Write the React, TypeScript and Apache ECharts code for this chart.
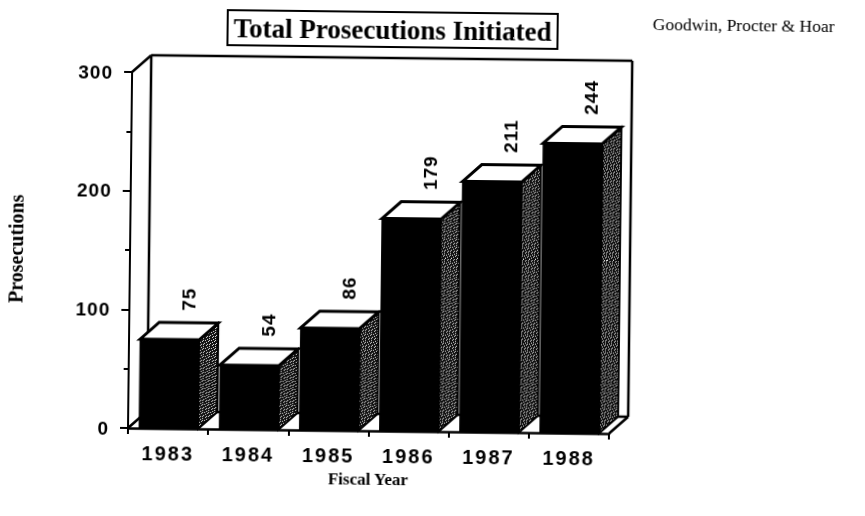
import React, { useEffect, useRef } from "react";
import * as echarts from "echarts";

const categories = ["1983", "1984", "1985", "1986", "1987", "1988"];
const prosecutions = [75, 54, 86, 179, 211, 244];
const yTicks = [0, 100, 200, 300];
const chartTitle = "Total Prosecutions Initiated";
const sourceNote = "Goodwin, Procter & Hoar";
const yName = "Prosecutions";
const xName = "Fiscal Year";

const DEPTH_X = 19;
const DEPTH_Y = 17;
const STIPPLE = ["k.kkkk", "kkkk.k", "kk.kkk", ".kkk.k", "kkk.kk", "k.kkkk", "kkkkk.", "kk.k.k"];

function stippleCanvas() {
  const c = document.createElement("canvas");
  c.width = STIPPLE[0].length;
  c.height = STIPPLE.length;
  const ctx = c.getContext("2d")!;
  STIPPLE.forEach((row, y) => {
    [...row].forEach((ch, x) => {
      ctx.fillStyle = ch === "k" ? "#111" : "#ddd";
      ctx.fillRect(x, y, 1, 1);
    });
  });
  return c;
}

export default function App() {
  const ref = useRef<HTMLDivElement>(null);
  useEffect(() => {
    document.body.style.margin = "0";
    document.body.style.overflow = "hidden";
    const chart = echarts.init(ref.current!, undefined, { renderer: "svg" });
    const pattern = { image: stippleCanvas(), repeat: "repeat" };
    const line = { stroke: "#000", lineWidth: 2.5, fill: "none" };
    chart.setOption({
      animation: false,
      backgroundColor: "#fff",
      title: [
        {
          text: chartTitle,
          left: 223,
          top: 9,
          padding: [4, 6, 4, 6],
          borderColor: "#000",
          borderWidth: 2,
          textStyle: { fontFamily: "Liberation Serif", fontSize: 27, fontWeight: "bold", color: "#000" },
        },
        {
          text: sourceNote,
          left: 648,
          top: 9,
          padding: 0,
          textStyle: { fontFamily: "Liberation Serif", fontSize: 17.5, fontWeight: "normal", color: "#000" },
        },
      ],
      grid: { left: 128, top: 72, width: 481, height: 356, outerBoundsMode: "none" },
      xAxis: {
        type: "category",
        data: categories,
        name: xName,
        nameLocation: "middle",
        nameGap: 36,
        nameTextStyle: { fontFamily: "Liberation Serif", fontSize: 17, fontWeight: "bold", color: "#000" },
        axisLine: { lineStyle: { color: "#000", width: 2.5 } },
        axisTick: { show: true, alignWithLabel: false, length: 6, lineStyle: { color: "#000", width: 2 } },
        axisLabel: { margin: 15, fontFamily: "Liberation Sans", fontSize: 20, fontWeight: "bold", color: "#000" },
      },
      yAxis: {
        type: "value",
        min: yTicks[0],
        max: yTicks[yTicks.length - 1],
        interval: yTicks[1],
        name: yName,
        nameLocation: "middle",
        nameGap: 104,
        nameTextStyle: { fontFamily: "Liberation Serif", fontSize: 20, fontWeight: "bold", color: "#000" },
        axisLine: { show: true, lineStyle: { color: "#000", width: 2 } },
        axisTick: { show: true, length: 8, lineStyle: { color: "#000", width: 2 } },
        minorTick: { show: true, splitNumber: 2, length: 5, lineStyle: { color: "#000", width: 2 } },
        splitLine: { show: false },
        axisLabel: { margin: 19, fontFamily: "Liberation Sans", fontSize: 19, fontWeight: "bold", color: "#000" },
      },
      series: [
        {
          type: "custom",
          silent: true,
          clip: false,
          data: [[0, 0]],
          renderItem: (params: any) => {
            const r = params.coordSys;
            const l = r.x, t = r.y, ri = r.x + r.width, b = r.y + r.height;
            const seg = (x1: number, y1: number, x2: number, y2: number) => ({
              type: "line",
              shape: { x1, y1, x2, y2 },
              style: line,
            });
            return {
              type: "group",
              children: [
                seg(l + DEPTH_X, t - DEPTH_Y, ri + DEPTH_X, t - DEPTH_Y),
                seg(l + DEPTH_X, t - DEPTH_Y, l + DEPTH_X, b - DEPTH_Y),
                seg(ri + DEPTH_X, t - DEPTH_Y, ri + DEPTH_X, b - DEPTH_Y),
                seg(l + DEPTH_X, b - DEPTH_Y, ri + DEPTH_X, b - DEPTH_Y),
                seg(l, t, l + DEPTH_X, t - DEPTH_Y),
                seg(l, b, l + DEPTH_X, b - DEPTH_Y),
                seg(ri, b, ri + DEPTH_X, b - DEPTH_Y),
              ],
            };
          },
        },
        {
          type: "custom",
          silent: true,
          clip: false,
          data: categories.map((_, i) => [i, prosecutions[i]]),
          renderItem: (_: any, api: any) => {
            const [cx, top] = api.coord([api.value(0), api.value(1)]);
            const [, base] = api.coord([api.value(0), 0]);
            const x0 = cx - 29;
            const x1 = cx + 30;
            return {
              type: "group",
              children: [
                {
                  type: "polygon",
                  shape: { points: [[x1, top], [x1 + DEPTH_X, top - DEPTH_Y], [x1 + DEPTH_X, base - DEPTH_Y], [x1, base]] },
                  style: { fill: pattern, stroke: "#000", lineWidth: 2 },
                },
                {
                  type: "polygon",
                  shape: { points: [[x0, top], [x0 + DEPTH_X, top - DEPTH_Y], [x1 + DEPTH_X, top - DEPTH_Y], [x1, top]] },
                  style: { fill: "#fff", stroke: "#000", lineWidth: 3 },
                },
                {
                  type: "rect",
                  shape: { x: x0, y: top, width: x1 - x0, height: base - top },
                  style: { fill: "#000", stroke: "#000", lineWidth: 1 },
                },
                {
                  type: "text",
                  x: cx + DEPTH_X,
                  y: top - DEPTH_Y - 12,
                  rotation: Math.PI / 2,
                  style: {
                    text: String(api.value(1)),
                    align: "left",
                    verticalAlign: "middle",
                    fontFamily: "Liberation Sans",
                    fontSize: 19,
                    fontWeight: "bold",
                    fill: "#000",
                  },
                },
              ],
            };
          },
        },
      ],
    });
    return () => chart.dispose();
  }, []);
  return (
    <>
      <style>{`text[style*="Liberation Sans"]{letter-spacing:1px} text[style*="20px"][style*="Liberation Sans"]{letter-spacing:2px}`}</style>
      <div
        ref={ref}
        style={{
          position: "fixed",
          left: 0,
          top: 0,
          width: 865,
          height: 516,
          transform: "rotate(0.66deg)",
          transformOrigin: "128px 428px",
        }}
      />
    </>
  );
}
